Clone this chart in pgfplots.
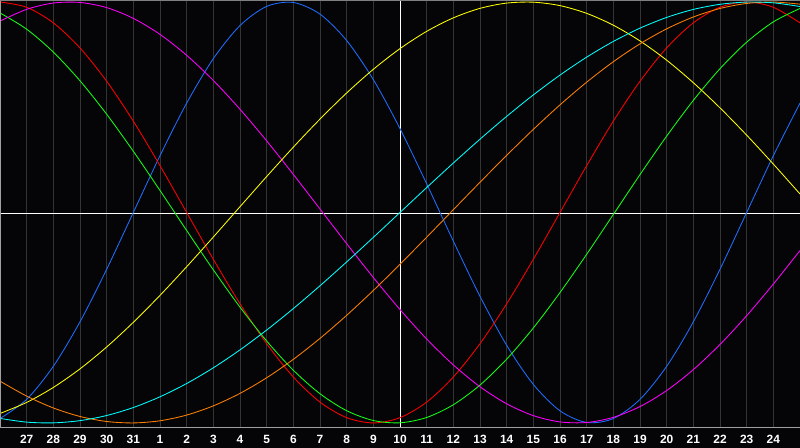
\documentclass[border=0pt]{standalone}
\usepackage{fontspec}
\setmainfont{Liberation Sans}
\usepackage{pgfplots}
\pgfplotsset{compat=1.18}
\definecolor{bg}{HTML}{050508}
\definecolor{gridc}{HTML}{343434}
\definecolor{bordc}{HTML}{A0A0A0}
\definecolor{cblue}{RGB}{30,110,255}
\definecolor{cred}{RGB}{255,0,0}
\definecolor{cgreen}{RGB}{20,255,20}
\definecolor{cmag}{RGB}{255,0,255}
\definecolor{cyel}{RGB}{255,255,0}
\definecolor{ccyan}{RGB}{0,255,255}
\definecolor{corange}{RGB}{255,128,0}
\begin{document}
\begin{tikzpicture}
\fill[bg] (0bp,0bp) rectangle (800bp,448bp);
\path[use as bounding box] (0bp,0bp) rectangle (800bp,448bp);
\begin{axis}[
  at={(0bp,20bp)}, anchor=south west, scale only axis,
  width=800bp, height=428bp,
  xmin=-15, xmax=15, ymin=-1.024, ymax=1.0095,
  axis line style={draw=none},
  ytick=\empty,
  xtick={-15,...,15},
  xticklabels={,27,28,29,30,31,1,2,3,4,5,6,7,8,9,10,11,12,13,14,15,16,17,18,19,20,21,22,23,24,},
  major tick length=0pt,
  xmajorgrids,
  grid style={color=gridc, line width=0.9bp},
  extra x ticks={0}, extra x tick labels={},
  extra x tick style={grid=major, grid style={white, line width=0.9bp}},
  extra y ticks={-0.007}, extra y tick labels={},
  extra y tick style={grid=major, grid style={white, line width=0.9bp}},
  xticklabel style={font=\bfseries\fontsize{12}{13}\selectfont, text=white, anchor=base, yshift=-15.5bp},
  every axis plot/.append style={line width=0.85bp, smooth},
]
\addplot[cblue] coordinates {(-15,-0.9791)(-14,-0.8880)(-13,-0.7308)(-12,-0.5196)(-11,-0.2698)(-10,0)(-9,0.2698)(-8,0.5196)(-7,0.7308)(-6,0.8880)(-5,0.9791)(-4,0.9977)(-3,0.9423)(-2,0.8170)(-1,0.6311)(0,0.3984)(1,0.1362)(2,-0.1362)(3,-0.3984)(4,-0.6311)(5,-0.8170)(6,-0.9423)(7,-0.9977)(8,-0.9791)(9,-0.8880)(10,-0.7308)(11,-0.5196)(12,-0.2698)(13,0)(14,0.2698)(15,0.5196)};
\addplot[cred] coordinates {(-15,1)(-14,0.9749)(-13,0.9010)(-12,0.7818)(-11,0.6235)(-10,0.4339)(-9,0.2225)(-8,0)(-7,-0.2225)(-6,-0.4339)(-5,-0.6235)(-4,-0.7818)(-3,-0.9010)(-2,-0.9749)(-1,-1)(0,-0.9749)(1,-0.9010)(2,-0.7818)(3,-0.6235)(4,-0.4339)(5,-0.2225)(6,0)(7,0.2225)(8,0.4339)(9,0.6235)(10,0.7818)(11,0.9010)(12,0.9749)(13,1)(14,0.9749)(15,0.9010)};
\addplot[cgreen] coordinates {(-15,0.9481)(-14,0.8708)(-13,0.7620)(-12,0.6257)(-11,0.4667)(-10,0.2908)(-9,0.1045)(-8,-0.0856)(-7,-0.2726)(-6,-0.4498)(-5,-0.6107)(-4,-0.7496)(-3,-0.8612)(-2,-0.9418)(-1,-0.9884)(0,-0.9993)(1,-0.9740)(2,-0.9135)(3,-0.8200)(4,-0.6969)(5,-0.5486)(6,-0.3804)(7,-0.1986)(8,-0.0095)(9,0.1799)(10,0.3628)(11,0.5326)(12,0.6832)(13,0.8090)(14,0.9056)(15,0.9695)};
\addplot[cmag] coordinates {(-15,0.9091)(-14,0.9652)(-13,0.9951)(-12,0.9978)(-11,0.9733)(-10,0.9222)(-9,0.8461)(-8,0.7466)(-7,0.6272)(-6,0.4904)(-5,0.3402)(-4,0.1808)(-3,0.0166)(-2,-0.1483)(-1,-0.3090)(0,-0.4613)(1,-0.6011)(2,-0.7244)(3,-0.8280)(4,-0.9090)(5,-0.9652)(6,-0.9951)(7,-0.9978)(8,-0.9733)(9,-0.9222)(10,-0.8461)(11,-0.7466)(12,-0.6272)(13,-0.4904)(14,-0.3402)(15,-0.1808)};
\addplot[cyel] coordinates {(-15,-0.9550)(-14,-0.9025)(-13,-0.8313)(-12,-0.7430)(-11,-0.6391)(-10,-0.5219)(-9,-0.3939)(-8,-0.2578)(-7,-0.1165)(-6,0.0274)(-5,0.1707)(-4,0.3104)(-3,0.4437)(-2,0.5678)(-1,0.6802)(0,0.7784)(1,0.8605)(2,0.9247)(3,0.9698)(4,0.9948)(5,0.9991)(6,0.9828)(7,0.9460)(8,0.8897)(9,0.8150)(10,0.7235)(11,0.6165)(12,0.4970)(13,0.3673)(14,0.2299)(15,0.0878)};
\addplot[corange] coordinates {(-15,-0.8013)(-14,-0.8725)(-13,-0.9288)(-12,-0.9692)(-11,-0.9931)(-10,-0.9999)(-9,-0.9897)(-8,-0.9625)(-7,-0.9188)(-6,-0.8594)(-5,-0.7853)(-4,-0.6978)(-3,-0.5983)(-2,-0.4886)(-1,-0.3706)(0,-0.2462)(1,-0.1175)(2,0.0131)(3,0.1435)(4,0.2714)(5,0.3947)(6,0.5113)(7,0.6191)(8,0.7163)(9,0.8013)(10,0.8725)(11,0.9288)(12,0.9692)(13,0.9931)(14,0.9999)(15,0.9897)};
\addplot[ccyan] coordinates {(-15,-0.9785)(-14,-0.9961)(-13,-0.9996)(-12,-0.9890)(-11,-0.9647)(-10,-0.9267)(-9,-0.8757)(-8,-0.8126)(-7,-0.7380)(-6,-0.6528)(-5,-0.5586)(-4,-0.4566)(-3,-0.3482)(-2,-0.2349)(-1,-0.1183)(0,0)(1,0.1183)(2,0.2349)(3,0.3482)(4,0.4566)(5,0.5586)(6,0.6528)(7,0.7380)(8,0.8126)(9,0.8757)(10,0.9267)(11,0.9647)(12,0.9890)(13,0.9996)(14,0.9961)(15,0.9785)};
\end{axis}
\draw[bordc, line width=1bp] (0.5bp,20bp) -- (0.5bp,448bp);
\draw[bordc, line width=1bp] (0bp,20bp) -- (800bp,20bp);
\draw[gray, line width=1bp] (0bp,447.5bp) -- (800bp,447.5bp);
\end{tikzpicture}
\end{document}
